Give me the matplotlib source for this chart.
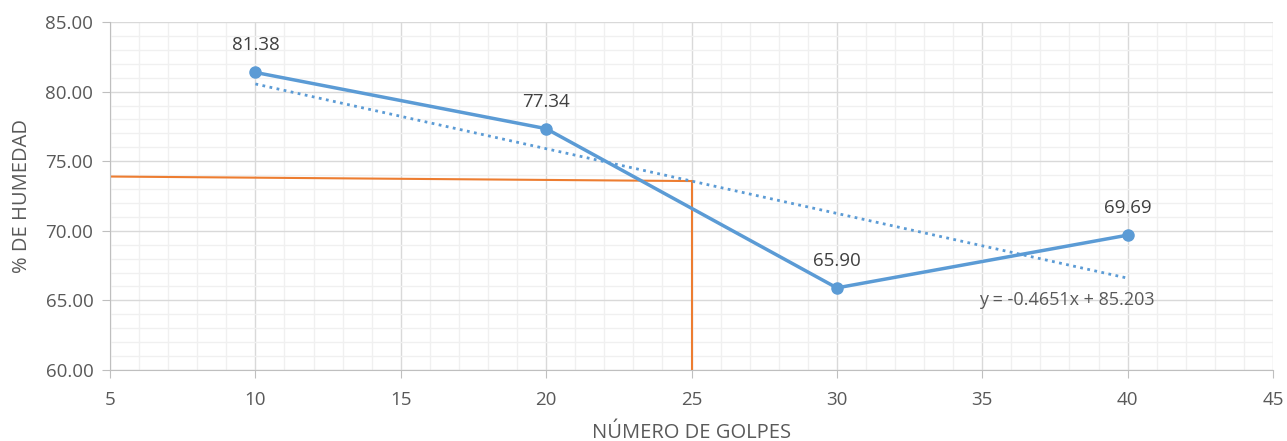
import matplotlib.pyplot as plt
from matplotlib.ticker import MultipleLocator, FormatStrFormatter

plt.rcParams['font.family'] = ['Open Sans', 'DejaVu Sans']

# ensayo de limite liquido: golpes vs contenido de humedad
golpes = [10, 20, 30, 40]
humedad = [81.38, 77.34, 65.90, 69.69]

# tendencia lineal
pendiente = -0.4651
intercepto = 85.203

# lectura de la humedad a 25 golpes
golpes_lectura = 25
humedad_izq = 73.9

azul = '#5B9BD5'
naranja = '#ED7D31'
gris = '#595959'

fig = plt.figure(figsize=(12.87, 4.41), dpi=100)
ax = fig.add_axes([0.0855, 0.161, 0.9036, 0.789])

xt = [golpes[0], golpes[-1]]
ax.plot(xt, [pendiente * x + intercepto for x in xt], color=azul, lw=2,
        ls=(0, (1, 1.6)), zorder=3)

ax.plot(golpes, humedad, color=azul, lw=2.5, marker='o', ms=8, zorder=4)
for x, y in zip(golpes, humedad):
    ax.annotate(f'{y:.2f}', (x, y), xytext=(0, 13), textcoords='offset points',
                ha='center', va='bottom', fontsize=13.5, color='#404040')

ax.text(37.9, 65.0, f'y = {pendiente}x + {intercepto}', ha='center',
        va='center', fontsize=13, color=gris)

# lectura en 25 golpes
h25 = pendiente * golpes_lectura + intercepto
ax.plot([5, golpes_lectura], [humedad_izq, h25], color=naranja, lw=1.5, zorder=2)
ax.plot([golpes_lectura, golpes_lectura], [h25, 60], color=naranja, lw=1.5, zorder=2)

ax.set_xlim(5, 45)
ax.set_ylim(60, 85)
ax.xaxis.set_major_locator(MultipleLocator(5))
ax.xaxis.set_minor_locator(MultipleLocator(1))
ax.yaxis.set_major_locator(MultipleLocator(5))
ax.yaxis.set_minor_locator(MultipleLocator(1))
ax.yaxis.set_major_formatter(FormatStrFormatter('%.2f'))

ax.grid(which='major', color='#D9D9D9', lw=1)
ax.grid(which='minor', color='#F0F0F0', lw=1)
ax.set_axisbelow(True)

for s in ['top', 'right']:
    ax.spines[s].set_visible(False)
for s in ['left', 'bottom']:
    ax.spines[s].set_color('#BFBFBF')
ax.tick_params(which='major', color='#BFBFBF', length=6, labelsize=13.5,
               labelcolor=gris, pad=6)
ax.tick_params(axis='x', which='major', pad=9)
ax.tick_params(which='minor', length=0)

ax.set_xlabel('NÚMERO DE GOLPES', fontsize=14.5, color=gris, labelpad=10)
ax.set_ylabel('% DE HUMEDAD', fontsize=14.5, color=gris, labelpad=10)

fig.savefig('out.png', dpi=100)
